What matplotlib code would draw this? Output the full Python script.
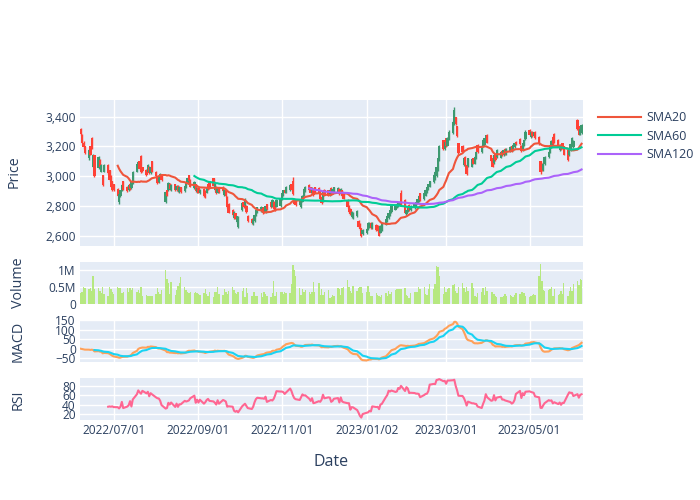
import matplotlib
matplotlib.use("Agg")
import matplotlib.pyplot as plt
import matplotlib.dates as mdates
import matplotlib.ticker as mticker
import numpy as np
import pandas as pd
from datetime import datetime

# ---------------- data (one row per week) ----------------
start_date = "2022-06-07"

open_ = [
    3315, 3278, 3225, 3200,
    3120, 3200, 3255, 3065, 3140,
    3055, 3108, 3030, 3005, 3030,
    3075, 3040, 2997, 2965, 2945,
    2915, 2825, 2865, 2905, 2965,
    2930, 2905, 2950, 2920, 2950,
    3030, 3060, 3100, 3135, 3060,
    3045, 3030, 3065, 3020, 3100,
    3030, 2998, 2960, 2985, 3005,
    2830, 2905, 2905, 2950, 2905,
    2945, 2905, 2935, 2895, 2925,
    2900, 2925, 2950, 3005, 2975,
    2920, 2945, 2895, 2920, 2885,
    2915, 2900, 2890, 2945, 2965,
    2985, 2905, 2930, 2890, 2925,
    2930, 2875, 2905, 2860, 2815,
    2775, 2720, 2750, 2690, 2660,
    2770, 2830, 2805, 2800, 2735,
    2715, 2680, 2700, 2735, 2760,
    2765, 2785, 2790, 2760, 2810,
    2830, 2795, 2830, 2805, 2795,
    2800, 2845, 2870, 2910, 2890,
    2905, 2945, 2970, 2850, 2835,
    2805, 2790, 2830, 2870, 2900,
    2940, 2925, 2885, 2915, 2925,
    2920, 2905, 2860, 2830, 2910,
    2905, 2875, 2920, 2885, 2900,
    2895, 2915, 2880, 2905, 2880,
    2840, 2800, 2780, 2725, 2720,
    2730, 2700, 2680, 2650, 2610,
    2615, 2645, 2660, 2685, 2650,
    2675, 2665, 2640, 2620, 2640,
    2675, 2700, 2720, 2740, 2760,
    2775, 2790, 2795, 2805, 2885,
    2840, 2745, 2765, 2805, 2770,
    2785, 2800, 2815, 2835, 2885,
    2845, 2870, 2895, 2910, 2930,
    2960, 2980, 3000, 3040, 3110,
    3240, 3180, 3255, 3205, 3245,
    3290, 3350, 3395, 3335, 3220,
    3205, 3075, 3130, 3075, 3070,
    3065, 3120, 3085, 3120, 3210,
    3160, 3200, 3210, 3235, 3280,
    3140, 3120, 3090, 3150, 3130,
    3125, 3170, 3140, 3185, 3150,
    3165, 3200, 3175, 3195, 3230,
    3250, 3205, 3175, 3205, 3250,
    3310, 3265, 3300, 3270, 3300,
    3265, 3100, 3085, 3040, 3080,
    3130, 3160, 3195, 3265, 3285,
    3245, 3175, 3210, 3220, 3200,
    3175, 3140, 3175, 3210, 3195,
    3375, 3335, 3280, 3290,
]

close = [
    3285, 3225, 3195, 3155,
    3175, 3145, 3190, 3140, 3000,
    3130, 3063, 3075, 2940, 3075,
    3020, 2975, 2930, 2910, 2905,
    2870, 2880, 2905, 2940, 2910,
    2900, 2940, 2915, 2960, 3030,
    3080, 3095, 3050, 3025, 3035,
    3005, 3075, 3020, 3060, 3030,
    2998, 2955, 2995, 3015, 2975,
    2895, 2870, 2955, 2915, 2940,
    2905, 2935, 2900, 2930, 2895,
    2935, 2960, 2990, 2965, 2930,
    2960, 2900, 2920, 2890, 2910,
    2865, 2860, 2930, 2915, 2920,
    2935, 2945, 2885, 2925, 2895,
    2900, 2910, 2865, 2790, 2755,
    2740, 2760, 2715, 2730, 2725,
    2818, 2790, 2850, 2760, 2700,
    2685, 2705, 2740, 2775, 2790,
    2795, 2750, 2755, 2800, 2780,
    2790, 2840, 2780, 2770, 2840,
    2850, 2885, 2905, 2890, 2930,
    2940, 2910, 2880, 2815, 2805,
    2840, 2825, 2870, 2915, 2930,
    2905, 2890, 2920, 2875, 2890,
    2890, 2850, 2820, 2900, 2870,
    2870, 2910, 2885, 2915, 2925,
    2920, 2880, 2915, 2865, 2850,
    2790, 2760, 2745, 2760, 2755,
    2765, 2660, 2645, 2600, 2640,
    2645, 2685, 2685, 2650, 2685,
    2640, 2630, 2600, 2665, 2685,
    2710, 2730, 2750, 2770, 2800,
    2805, 2815, 2820, 2830, 2810,
    2755, 2770, 2800, 2770, 2800,
    2815, 2825, 2845, 2870, 2840,
    2885, 2910, 2925, 2945, 2965,
    3010, 3030, 3060, 3120, 3200,
    3180, 3230, 3200, 3260, 3300,
    3365, 3445, 3350, 3270, 3155,
    3165, 3125, 3075, 3015, 3120,
    3115, 3085, 3130, 3165, 3160,
    3205, 3243, 3255, 3275, 3225,
    3105, 3065, 3140, 3110, 3175,
    3165, 3140, 3175, 3150, 3185,
    3195, 3170, 3210, 3225, 3215,
    3215, 3170, 3220, 3245, 3300,
    3280, 3300, 3270, 3295, 3255,
    3215, 3025, 3040, 3085, 3130,
    3165, 3200, 3235, 3215, 3225,
    3200, 3210, 3180, 3190, 3145,
    3110, 3185, 3215, 3260, 3235,
    3315, 3280, 3320, 3345,
]

high = [
    3325, 3285, 3235, 3205,
    3185, 3205, 3262, 3150, 3145,
    3135, 3115, 3080, 3010, 3080,
    3080, 3045, 3005, 2970, 2950,
    2920, 2885, 2910, 2945, 2970,
    2935, 2945, 2955, 2965, 3035,
    3085, 3100, 3105, 3145, 3065,
    3050, 3080, 3070, 3065, 3105,
    3035, 3002, 3000, 3020, 3010,
    2900, 2910, 2960, 2955, 2945,
    2950, 2940, 2940, 2935, 2930,
    2940, 2965, 2995, 3010, 2980,
    2965, 2950, 2925, 2925, 2915,
    2920, 2905, 2935, 2950, 2970,
    2990, 2950, 2935, 2930, 2930,
    2935, 2915, 2910, 2865, 2820,
    2780, 2765, 2755, 2735, 2730,
    2825, 2835, 2855, 2805, 2740,
    2720, 2710, 2745, 2780, 2795,
    2800, 2790, 2795, 2805, 2815,
    2835, 2845, 2835, 2810, 2845,
    2855, 2890, 2910, 2915, 2935,
    2945, 2950, 2995, 2855, 2840,
    2845, 2830, 2875, 2920, 2935,
    2945, 2930, 2925, 2920, 2930,
    2925, 2910, 2865, 2905, 2915,
    2910, 2915, 2925, 2920, 2930,
    2925, 2920, 2920, 2910, 2885,
    2845, 2805, 2785, 2765, 2760,
    2770, 2705, 2685, 2655, 2645,
    2650, 2690, 2690, 2690, 2690,
    2680, 2670, 2645, 2670, 2690,
    2715, 2735, 2755, 2775, 2805,
    2810, 2820, 2825, 2835, 2905,
    2845, 2775, 2805, 2810, 2805,
    2820, 2830, 2850, 2875, 2890,
    2890, 2915, 2930, 2950, 2970,
    3015, 3035, 3065, 3125, 3210,
    3245, 3235, 3260, 3265, 3310,
    3370, 3465, 3400, 3340, 3225,
    3210, 3130, 3135, 3080, 3125,
    3120, 3125, 3135, 3170, 3215,
    3210, 3248, 3260, 3280, 3285,
    3145, 3125, 3145, 3155, 3180,
    3170, 3175, 3180, 3190, 3190,
    3200, 3205, 3215, 3230, 3235,
    3255, 3210, 3225, 3250, 3310,
    3315, 3305, 3305, 3300, 3305,
    3270, 3105, 3090, 3090, 3135,
    3170, 3205, 3240, 3270, 3290,
    3250, 3215, 3215, 3225, 3205,
    3180, 3190, 3220, 3265, 3240,
    3385, 3340, 3325, 3350,
]

low = [
    3280, 3220, 3185, 3150,
    3110, 3140, 3185, 3060, 2995,
    3050, 3055, 3025, 2935, 3025,
    3015, 2970, 2925, 2900, 2900,
    2865, 2815, 2860, 2900, 2905,
    2895, 2900, 2910, 2915, 2945,
    3025, 3055, 3045, 3020, 3030,
    3000, 3025, 3015, 3015, 3025,
    2995, 2950, 2955, 2980, 2970,
    2820, 2865, 2900, 2910, 2900,
    2900, 2900, 2895, 2890, 2890,
    2895, 2920, 2945, 2960, 2925,
    2915, 2895, 2890, 2885, 2880,
    2860, 2855, 2885, 2910, 2915,
    2930, 2900, 2880, 2885, 2890,
    2895, 2870, 2860, 2785, 2750,
    2735, 2715, 2710, 2685, 2650,
    2765, 2785, 2800, 2755, 2695,
    2680, 2675, 2695, 2730, 2755,
    2760, 2745, 2750, 2755, 2775,
    2785, 2790, 2775, 2765, 2790,
    2795, 2840, 2865, 2885, 2885,
    2900, 2905, 2875, 2810, 2800,
    2800, 2785, 2825, 2865, 2895,
    2900, 2885, 2880, 2870, 2885,
    2885, 2845, 2815, 2825, 2865,
    2865, 2870, 2880, 2880, 2895,
    2890, 2875, 2875, 2860, 2845,
    2785, 2755, 2740, 2720, 2715,
    2725, 2655, 2640, 2590, 2605,
    2610, 2640, 2655, 2645, 2645,
    2635, 2625, 2595, 2615, 2635,
    2670, 2695, 2715, 2735, 2755,
    2770, 2785, 2790, 2800, 2805,
    2750, 2740, 2760, 2765, 2765,
    2780, 2795, 2810, 2830, 2835,
    2840, 2865, 2890, 2905, 2925,
    2955, 2975, 2995, 3035, 3105,
    3175, 3175, 3195, 3200, 3240,
    3285, 3345, 3345, 3265, 3150,
    3160, 3070, 3070, 3008, 3065,
    3060, 3080, 3080, 3115, 3155,
    3155, 3195, 3205, 3230, 3220,
    3100, 3060, 3085, 3105, 3125,
    3120, 3135, 3135, 3145, 3145,
    3160, 3165, 3170, 3190, 3210,
    3210, 3165, 3170, 3200, 3245,
    3275, 3260, 3265, 3265, 3250,
    3210, 3015, 3035, 3035, 3075,
    3125, 3155, 3190, 3210, 3220,
    3195, 3170, 3175, 3185, 3140,
    3100, 3135, 3170, 3205, 3190,
    3310, 3275, 3275, 3285,
]

volume_m = [
    0.32, 0.35, 0.50, 0.47,
    0.45, 0.48, 0.40, 0.84, 0.45,
    0.47, 0.39, 0.32, 0.52, 0.29,
    0.25, 0.50, 0.45, 0.35, 0.29,
    0.50, 0.47, 0.49, 0.32, 0.37,
    0.47, 0.35, 0.47, 0.42, 0.47,
    0.37, 0.42, 0.32, 0.50, 0.25,
    0.27, 0.23, 0.25, 0.25, 0.25,
    0.29, 0.47, 0.36, 0.30, 0.42,
    1.00, 0.75, 0.62, 0.29, 0.65,
    0.27, 0.42, 0.55, 0.62, 0.79,
    0.52, 0.42, 0.35, 0.32, 0.37,
    0.32, 0.35, 0.32, 0.29, 0.27,
    0.32, 0.45, 0.29, 0.25, 0.37,
    0.22, 0.37, 0.35, 0.52, 0.29,
    0.27, 0.45, 0.37, 0.29, 0.39,
    0.52, 0.42, 0.32, 0.29, 0.37,
    0.39, 0.47, 0.22, 0.47, 0.32,
    0.25, 0.35, 0.35, 0.25, 0.25,
    0.32, 0.22, 0.35, 0.29, 0.25,
    0.22, 0.32, 0.67, 0.25, 0.35,
    0.37, 0.35, 0.29, 0.35, 0.32,
    0.32, 0.59, 1.17, 1.02, 0.82,
    0.47, 0.27, 0.45, 0.37, 0.42,
    0.37, 0.29, 0.35, 0.64, 0.37,
    0.62, 0.27, 0.45, 0.27, 0.37,
    0.42, 0.17, 0.22, 0.27, 0.25,
    0.47, 0.45, 0.27, 0.47, 0.52,
    0.72, 0.52, 0.39, 0.32, 0.55,
    0.39, 0.47, 0.52, 0.52, 0.32,
    0.35, 0.55, 0.35, 0.25, 0.25,
    0.32, 0.27, 0.25, 0.22, 0.27,
    0.32, 0.25, 0.40, 0.29, 0.37,
    0.42, 0.44, 0.44, 0.44, 0.44,
    0.47, 0.27, 0.25, 0.19, 0.32,
    0.35, 0.35, 0.35, 0.52, 0.44,
    0.52, 0.29, 0.27, 0.45, 0.59,
    0.45, 0.59, 1.12, 1.09, 0.82,
    0.29, 0.50, 0.35, 0.44, 0.47,
    0.57, 0.59, 0.39, 0.32, 0.50,
    0.62, 0.47, 0.35, 0.50, 0.39,
    0.62, 0.47, 0.25, 0.20, 0.32,
    0.35, 0.49, 0.27, 0.50, 0.39,
    0.37, 0.35, 0.29, 0.25, 0.22,
    0.20, 0.20, 0.24, 0.29, 0.25,
    0.27, 0.25, 0.22, 0.27, 0.32,
    0.29, 0.35, 0.35, 0.34, 0.24,
    0.22, 0.25, 0.27, 0.29, 0.27,
    0.82, 1.19, 0.67, 0.42, 0.39,
    0.42, 0.45, 0.52, 0.25, 0.45,
    0.27, 0.29, 0.39, 0.29, 0.62,
    0.25, 0.39, 0.52, 0.40, 0.60,
    0.69, 0.57, 0.75, 0.72,
]

tick_dates = ["2022-07-01", "2022-09-01", "2022-11-01", "2023-01-02", "2023-03-01", "2023-05-01"]
tick_labels = ["2022/07/01", "2022/09/01", "2022/11/01", "2023/01/02", "2023/03/01", "2023/05/01"]

# ---------------- derived indicators ----------------
n = len(close)
assert len(open_) == n and len(high) == n and len(low) == n and len(volume_m) == n
dates = pd.bdate_range(start_date, periods=n)
df = pd.DataFrame({"open": open_, "high": high, "low": low, "close": close,
                   "volume": np.array(volume_m) * 1e6}, index=dates)
c = df["close"]
sma20 = c.rolling(20).mean()
sma60 = c.rolling(60).mean()
sma120 = c.rolling(120).mean()
ema12 = c.ewm(span=12).mean()
ema26 = c.ewm(span=26).mean()
macd = ema12 - ema26
signal = macd.ewm(span=9, min_periods=9).mean()
delta = c.diff()
gain = delta.clip(lower=0).rolling(14).mean()
loss = (-delta.clip(upper=0)).rolling(14).mean()
rsi = 100 - 100 / (1 + gain / loss)

# ---------------- figure ----------------
plt.rcParams["font.family"] = ["Open Sans", "DejaVu Sans"]
TEXT = "#2a3f5f"
BG = "#E5ECF6"
W, H = 700, 500
fig = plt.figure(figsize=(7, 5), dpi=100)

def axbox(x0, y0, x1, y1):
    return [x0 / W, 1 - y1 / H, (x1 - x0) / W, (y1 - y0) / H]

ax_p = fig.add_axes(axbox(80, 100, 583, 246))
ax_v = fig.add_axes(axbox(80, 262, 583, 304))
ax_m = fig.add_axes(axbox(80, 320, 583, 362))
ax_r = fig.add_axes(axbox(80, 378, 583, 419.5))

xnum = mdates.date2num(dates.to_pydatetime())
xlim = (mdates.date2num(datetime(2022, 6, 6, 10)), mdates.date2num(datetime(2023, 6, 9, 1)))
tick_pos = [mdates.date2num(pd.Timestamp(d).to_pydatetime()) for d in tick_dates]

for ax, xgrid in ((ax_p, True), (ax_v, False), (ax_m, True), (ax_r, True)):
    ax.set_facecolor(BG)
    for s in ax.spines.values():
        s.set_visible(False)
    ax.tick_params(length=0, colors=TEXT, labelsize=8.6, pad=3)
    ax.grid(axis="y", color="white", lw=1.0)
    if xgrid:
        ax.grid(axis="x", color="white", lw=1.0)
    ax.set_axisbelow(True)
    ax.set_xlim(xlim)
    ax.set_xticks(tick_pos)
    ax.set_xticklabels([] if ax is not ax_r else tick_labels)

# candlesticks
up = df["close"].values >= df["open"].values
cols = np.where(up, "#3D9970", "#FF4136")
ax_p.vlines(xnum, df["low"], df["high"], colors=cols, lw=1.0, zorder=2)
ax_p.bar(xnum, np.abs(df["close"] - df["open"]), bottom=np.minimum(df["open"], df["close"]),
         width=1.7, color=cols, lw=0, zorder=3)
ax_p.plot(xnum, sma20, color="#EF553B", lw=1.5, label="SMA20", zorder=4)
ax_p.plot(xnum, sma60, color="#00CC96", lw=1.5, label="SMA60", zorder=4)
ax_p.plot(xnum, sma120, color="#AB63FA", lw=1.5, label="SMA120", zorder=4)
ax_p.set_ylim(2531, 3512)
ax_p.set_yticks([2600, 2800, 3000, 3200, 3400])
ax_p.yaxis.set_major_formatter(mticker.FuncFormatter(lambda v, p: f"{int(v):,}"))

# volume
ax_v.bar(xnum, df["volume"], width=1.0, color="#B6E880", lw=0, zorder=2)
ax_v.set_ylim(0, 1.25e6)
ax_v.set_yticks([0, 0.5e6, 1e6])
ax_v.set_yticklabels(["0", "0.5M", "1M"])

# MACD
ax_m.plot(xnum, macd, color="#FFA15A", lw=1.5, zorder=3)
ax_m.plot(xnum, signal, color="#19D3F3", lw=1.5, zorder=3)
ax_m.set_ylim(-70, 152)
ax_m.set_yticks([-50, 0, 50, 100, 150])

# RSI
ax_r.plot(xnum, rsi, color="#FF6692", lw=1.5, zorder=3)
ax_r.set_ylim(9.5, 95.6)
ax_r.set_yticks([20, 40, 60, 80])

# titles
fig.text(14 / W, 1 - 172 / H, "Price", rotation=90, ha="center", va="center", color=TEXT, fontsize=10.3)
fig.text(18 / W, 1 - 283 / H, "Volume", rotation=90, ha="center", va="center", color=TEXT, fontsize=10.3)
fig.text(18 / W, 1 - 341 / H, "MACD", rotation=90, ha="center", va="center", color=TEXT, fontsize=10.3)
fig.text(18 / W, 1 - 400 / H, "RSI", rotation=90, ha="center", va="center", color=TEXT, fontsize=10.3)
fig.text(331 / W, 1 - 462 / H, "Date", ha="center", va="center", color=TEXT, fontsize=11.5)

leg = ax_p.legend(loc="upper left", bbox_to_anchor=(593 / W, 1 - 106 / H), bbox_transform=fig.transFigure,
                  frameon=False, fontsize=9, handlelength=3.4, handletextpad=0.5, labelspacing=0.45,
                  borderaxespad=0)
for t in leg.get_texts():
    t.set_color(TEXT)
for l in leg.get_lines():
    l.set_linewidth(1.5)

fig.savefig("out.png", dpi=100)
